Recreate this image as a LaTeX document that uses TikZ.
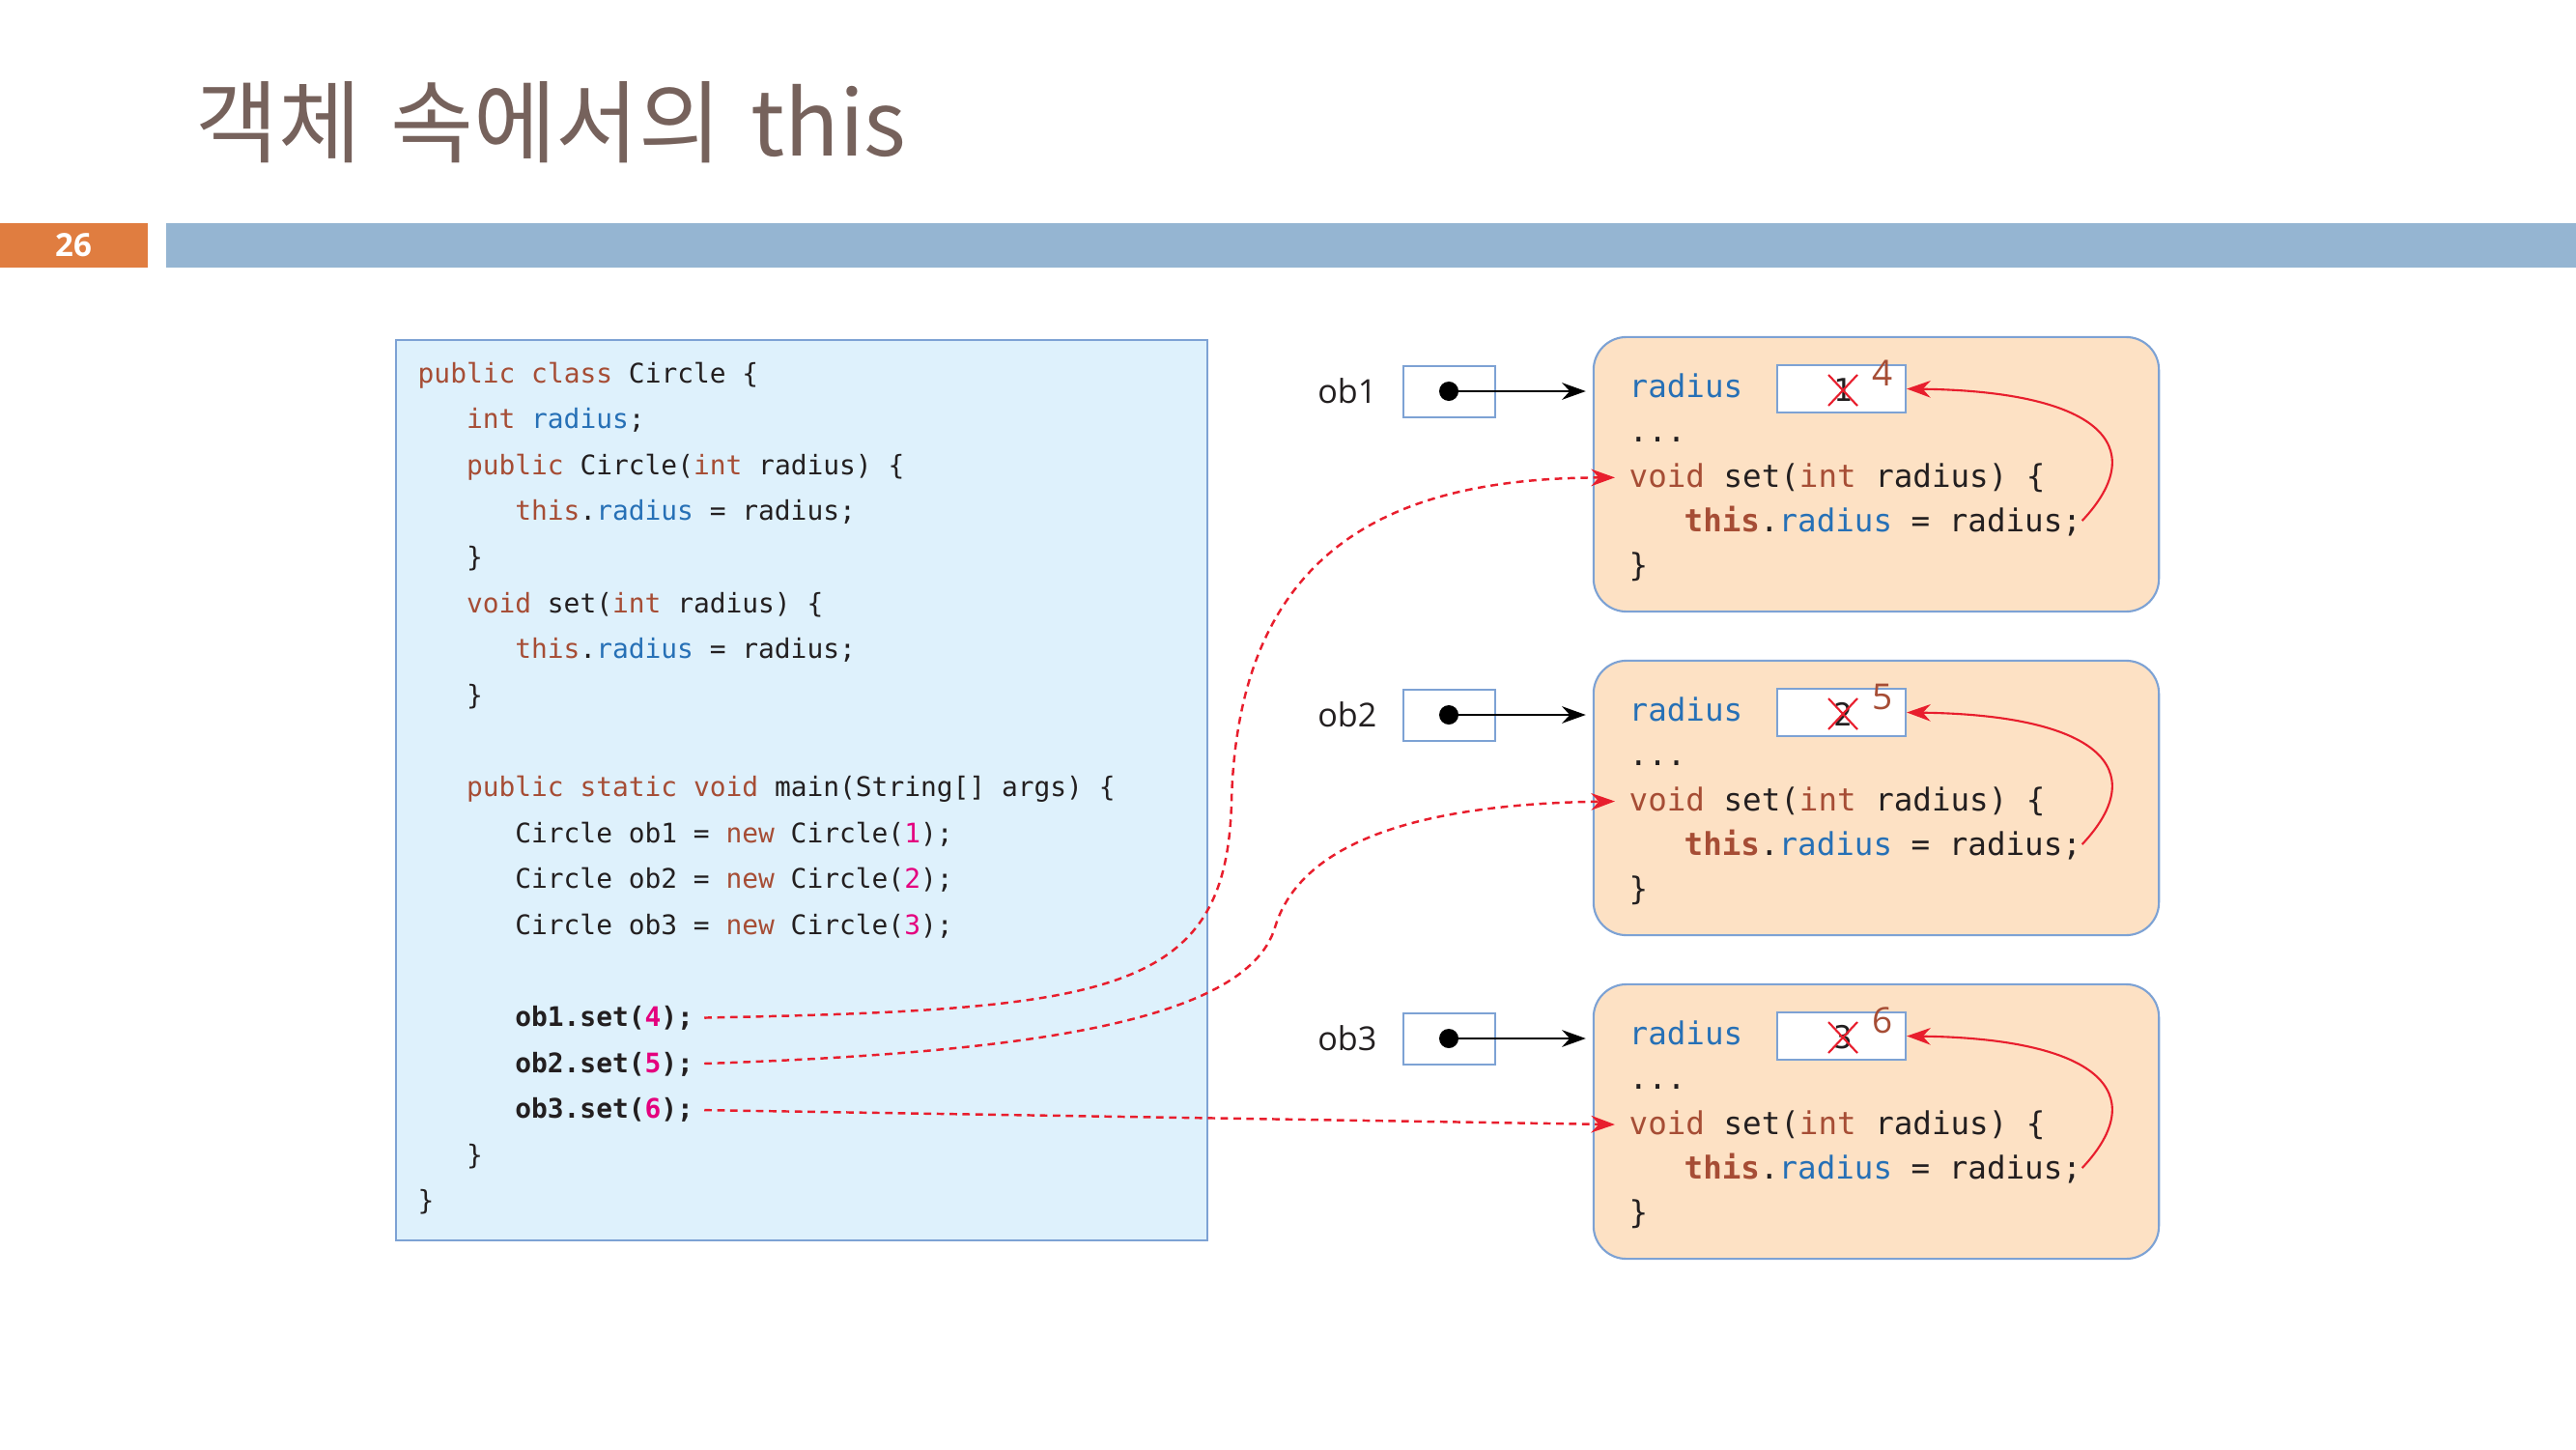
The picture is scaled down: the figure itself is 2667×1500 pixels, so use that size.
\documentclass[tikz,border=0pt]{standalone}
\usepackage{fontspec}
\usepackage{tikz}
\setmainfont{Open Sans}
\setmonofont{DejaVu Sans Mono}
\newfontfamily\krfont{Noto Sans CJK KR}
\usetikzlibrary{arrows.meta}

\definecolor{kwcol}{RGB}{166,77,53}
\definecolor{fldcol}{RGB}{38,112,182}
\definecolor{litcol}{RGB}{228,0,126}
\definecolor{txtcol}{RGB}{35,31,32}
\definecolor{redcol}{RGB}{232,30,45}
\definecolor{titlecol}{RGB}{118,98,92}
\definecolor{pagecol}{RGB}{224,125,64}
\definecolor{barcol}{RGB}{149,181,210}
\definecolor{codefill}{RGB}{222,241,252}
\definecolor{objfill}{RGB}{253,225,196}
\definecolor{framecol}{RGB}{125,162,212}

\newcommand{\kwd}[1]{\textcolor{kwcol}{#1}}
\newcommand{\fld}[1]{\textcolor{fldcol}{#1}}
\newcommand{\lit}[1]{\textcolor{litcol}{#1}}
\def\codesize{\fontsize{7.93}{9.5}\selectfont\ttfamily}
\def\objsize{\fontsize{9.25}{11}\selectfont\ttfamily}

\begin{document}
\begin{tikzpicture}[x=0.01cm,y=-0.01cm]
    \tikzstyle{code}=[anchor=base west,inner sep=0pt,font=\codesize,text=txtcol]
    \tikzstyle{objline}=[anchor=base west,inner sep=0pt,font=\objsize,text=txtcol]
    \tikzstyle{codebox}=[draw=framecol,fill=codefill,line width=0.6pt,inner sep=0pt]
    \tikzstyle{object}=[draw=framecol,fill=objfill,line width=0.6pt,rounded corners=0.34cm,inner sep=0pt]
    \tikzstyle{cell}=[draw=framecol,fill=white,line width=0.6pt,inner sep=0pt]
    \tikzstyle{dot}=[circle,fill=black,minimum size=0.2cm,inner sep=0pt]
    \tikzstyle{ptrarrow}=[-{Stealth[length=7pt,width=5pt]},line width=0.6pt,shorten >=2pt]
    \tikzstyle{setarrow}=[-{Stealth[length=7pt,width=5pt]},redcol,line width=0.6pt]
    \tikzstyle{callarrow}=[-{Stealth[length=7pt,width=5pt]},redcol,line width=0.7pt,
        dash pattern=on 2.2pt off 1.6pt,shorten <=3pt,shorten >=4pt]
    \tikzstyle{cross}=[redcol,line width=0.6pt]

    \useasboundingbox (0,0) rectangle (2667,1500);

    % Title and header bar
    \node[anchor=base west,inner sep=0pt,text=titlecol,font=\krfont\fontsize{26.5}{32}\selectfont]
        (title) at (202,162) {객체\hspace{0.1em} 속에서의\hspace{0.1em} this};
    \fill[pagecol] (0,231) rectangle (153,277);
    \fill[barcol] (172,231) rectangle (2667,277);
    \node[text=white,font=\bfseries\fontsize{9.4}{11}\selectfont] (pagenum) at (76,254) {26};

    % The class source
    \node[codebox,minimum width=8.4cm,minimum height=9.32cm] (src) at (830,818) {};
    \node[code] (l0) at (432,396) {\kwd{public class} Circle \{};
    \node[code] (l1) at (482.3,443.6) {\kwd{int} \fld{radius};};
    \node[code] (l2) at (482.3,491.2) {\kwd{public} Circle(\kwd{int} radius) \{};
    \node[code] (l3) at (532.6,538.8) {\kwd{this}.\fld{radius} = radius;};
    \node[code] (l4) at (482.3,586.4) {\}};
    \node[code] (l5) at (482.3,634) {\kwd{void} set(\kwd{int} radius) \{};
    \node[code] (l6) at (532.6,681.6) {\kwd{this}.\fld{radius} = radius;};
    \node[code] (l7) at (482.3,729.2) {\}};
    \node[code] (l9) at (482.3,824.4) {\kwd{public static void} main(String[] args) \{};
    \node[code] (new1) at (532.6,872) {Circle ob1 = \kwd{new} Circle(\lit{1});};
    \node[code] (new2) at (532.6,919.6) {Circle ob2 = \kwd{new} Circle(\lit{2});};
    \node[code] (new3) at (532.6,967.2) {Circle ob3 = \kwd{new} Circle(\lit{3});};
    \node[code] (call1) at (532.6,1062.4) {\textbf{ob1.set(\lit{4});}};
    \node[code] (call2) at (532.6,1110) {\textbf{ob2.set(\lit{5});}};
    \node[code] (call3) at (532.6,1157.6) {\textbf{ob3.set(\lit{6});}};
    \node[code] (l17) at (482.3,1205.2) {\}};
    \node[code] (l18) at (432,1252.8) {\}};

    % The three objects
    \foreach \i/\vold/\vnew in {1/1/4,2/2/5,3/3/6}
    {
        \pgfmathsetmacro{\dy}{335*(\i-1)}
        \begin{scope}[shift={(0,\dy)}]
            \node[object,minimum width=5.85cm,minimum height=2.84cm] (obj\i) at (1942.5,491) {};
            \node[objline] (rad\i) at (1686,411) {\fld{radius}};
            \node[cell,minimum width=1.33cm,minimum height=0.49cm] (val\i) at (1906.5,402.5) {};
            \node[font=\objsize,text=txtcol,inner sep=0pt] (old\i) at (1908,404) {\vold};
            \draw[cross] (old\i) ++(-15,-16) -- ++(30,32);
            \draw[cross] (old\i) ++(15,-16) -- ++(-30,32);
            \node[font=\fontsize{10.5}{12}\selectfont,text=kwcol,inner sep=0pt] (upd\i) at (1949,386) {\vnew};
            \node[objline] (dots\i) at (1686,457) {...};
            \node[objline] (void\i) at (1686,504) {\kwd{void} set(\kwd{int} radius) \{};
            \node[objline] (this\i) at (1743,550) {\textbf{\kwd{this}}.\fld{radius} = radius;};
            \node[objline] (end\i) at (1686,596) {\}};
            \node[anchor=east,inner sep=0pt,font=\fontsize{9.7}{11}\selectfont,text=txtcol] (ob\i) at (1426,405) {ob\i};
            \node[cell,minimum width=0.95cm,minimum height=0.53cm] (ptr\i) at (1500.5,405.5) {};
            \node[dot] (dot\i) at (1500,405) {};
            \draw[ptrarrow] (dot\i.center) -- (obj\i.west |- dot\i);
            \draw[setarrow] (this\i.east) .. controls (2230,460) and (2170,405) .. (val\i.east);
        \end{scope}
    }

    % Calls into each object
    \draw[callarrow] (call1.east) .. controls (1150,1045) and (1270,1030) .. (1275,830)
        .. controls (1282,560) and (1450,495) .. (void1.west);
    \draw[callarrow] (call2.east) .. controls (1050,1090) and (1290,1060) .. (1320,960)
        .. controls (1350,860) and (1500,832) .. (void2.west);
    \draw[callarrow] (call3.east) -- (void3.west);
\end{tikzpicture}
\end{document}
